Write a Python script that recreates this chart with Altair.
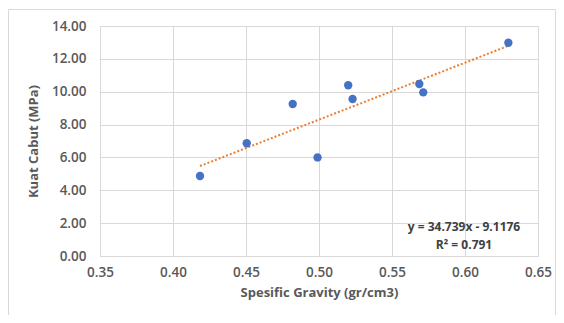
import altair as alt
import pandas as pd

# Data
sg = [0.4185, 0.4505, 0.482, 0.499, 0.520, 0.523, 0.5687, 0.5714, 0.6297]
kuat = [4.87, 6.86, 9.25, 6.00, 10.39, 9.56, 10.47, 9.96, 12.98]
x_ticks = [0.35, 0.40, 0.45, 0.50, 0.55, 0.60, 0.65]
y_ticks = [0, 2, 4, 6, 8, 10, 12, 14]
eq_lines = ["y = 34.739x - 9.1176", "R² = 0.791"]

df = pd.DataFrame({"sg": sg, "kuat": kuat})

FONT = "Open Sans"
GRID = "#d9d9d9"
LABEL = "#595959"

x_enc = alt.X(
    "sg:Q",
    scale=alt.Scale(domain=[0.35, 0.65], nice=False, zero=False),
    axis=alt.Axis(
        values=x_ticks, format=".2f", title="Spesific Gravity (gr/cm3)",
        grid=True, gridColor=GRID, domain=False, ticks=False, labelFlush=False,
        labelFont=FONT, labelFontSize=13.5, labelColor=LABEL, labelFontWeight=600,
        labelPadding=9, titleFont=FONT, titleFontSize=13, titleColor=LABEL,
        titleFontWeight="bold", titlePadding=8,
    ),
)
y_enc = alt.Y(
    "kuat:Q",
    scale=alt.Scale(domain=[0, 14], nice=False),
    axis=alt.Axis(
        values=y_ticks, format=".2f", title="Kuat Cabut (MPa)",
        grid=True, gridColor=GRID, domain=False, ticks=False, labelFlush=False,
        labelFont=FONT, labelFontSize=13.5, labelColor=LABEL, labelFontWeight=600,
        labelPadding=14, titleFont=FONT, titleFontSize=13, titleColor=LABEL,
        titleFontWeight="bold", titlePadding=11,
    ),
)

base = alt.Chart(df)

frame = alt.Chart(pd.DataFrame({"a": [0]})).mark_rect(
    fillOpacity=0, stroke="#d9d9d9", strokeWidth=1, clip=False
).encode(
    x=alt.value(-91.5), x2=alt.value(455.5), y=alt.value(-16.5), y2=alt.value(289.5)
)

points = base.mark_circle(size=70, color="#4472C4", opacity=1).encode(x=x_enc, y=y_enc)

trend = base.transform_regression("sg", "kuat", method="linear").mark_line(
    color="#ED7D31", strokeWidth=2, strokeDash=[2, 2]
).encode(x=x_enc, y=y_enc)

eq1 = alt.Chart(pd.DataFrame({"t": [eq_lines[0]]})).mark_text(
    font=FONT, fontSize=12, fontWeight="bold", color="#404040", align="center", baseline="middle"
).encode(text="t:N", x=alt.value(364), y=alt.value(201))
eq2 = alt.Chart(pd.DataFrame({"t": [eq_lines[1]]})).mark_text(
    font=FONT, fontSize=12, fontWeight="bold", color="#404040", align="center", baseline="middle"
).encode(text="t:N", x=alt.value(364), y=alt.value(219))

chart = alt.layer(frame, trend, points, eq1, eq2).properties(
    width=438, height=230,
    autosize=alt.AutoSizeParams(type="none"),
    padding={"left": 92, "top": 18, "right": 18, "bottom": 59},
    background="white",
).configure_view(stroke=GRID, strokeWidth=1)

chart.save("out.html", embed_options={"renderer": "svg", "actions": False})
